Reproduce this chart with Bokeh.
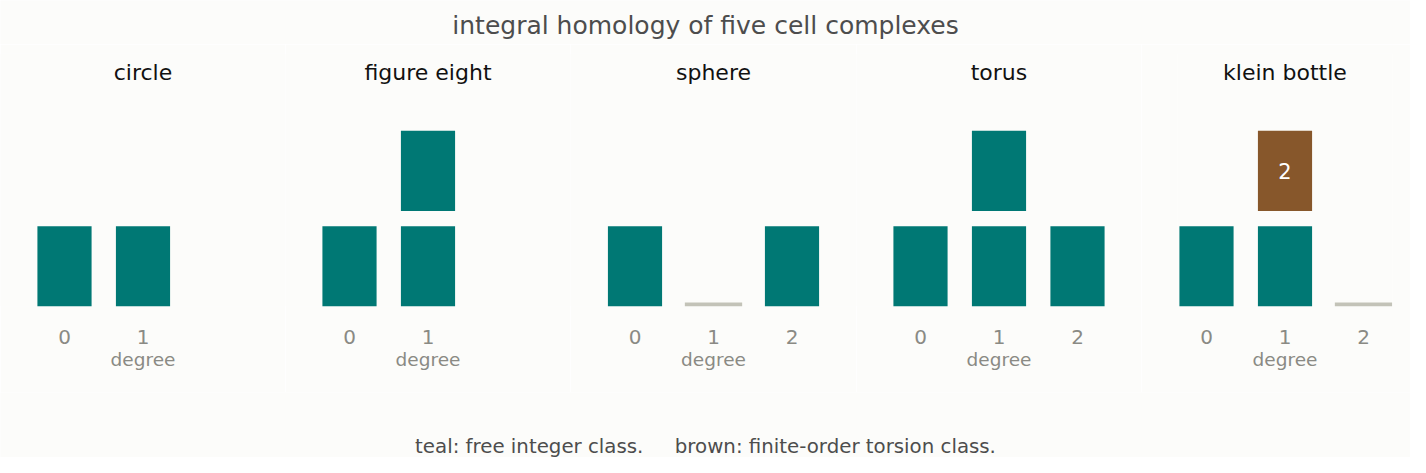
from bokeh.plotting import figure
from bokeh.models import Range1d, FixedTicker, Label, ColumnDataSource
from bokeh.layouts import column, row
from bokeh.core.properties import value
from bokeh.embed import file_html
from bokeh.resources import INLINE

# ---------------- data ----------------
main_title = "integral homology of five cell complexes"
footer_text = "teal: free integer class.\u00a0\u00a0\u00a0\u00a0 brown: finite-order torsion class."
complexes = ["circle", "figure eight", "sphere", "torus", "klein bottle"]
degrees = [[0, 1], [0, 1], [0, 1, 2], [0, 1, 2], [0, 1, 2]]
free_rank = [[1, 1], [1, 2], [1, 0, 1], [1, 2, 1], [1, 1, 0]]
torsion_orders = [[[], []], [[], []], [[], [], []], [[], [], []], [[], [2], []]]
axis_label = "degree"

# ---------------- style / layout ----------------
BG = "#fcfcfa"
TEAL = "#007874"
BROWN = "#87572b"
ZERO = "#c3c3b8"
FONT = "DejaVu Sans"
TICK_C = "#8a8a84"

frame_w = [285, 285, 286, 285, 215]
border_l = [0, 0, 0, 0, 36]
border_r = [0, 0, 0, 0, 18]
center_off = [142.5, 142.5, 143.0, 142.5, 107.5]
PX_X = 78.5
PX_Y = 95.5
Y_MAX = 2.65
FRAME_H = round(Y_MAX * PX_Y)
TITLE_Y = 2.45
BAR_W = 0.69
BAR_H = 0.84
ZERO_W = 0.73
ZERO_H = 0.042


def blank(w, h):
    f = figure(width=w, height=h, output_backend="svg", toolbar_location=None,
               x_range=Range1d(0, 1), y_range=Range1d(0, 1),
               min_border=0, background_fill_color=BG, border_fill_color=BG)
    f.outline_line_color = None
    f.axis.visible = False
    f.grid.visible = False
    return f


top = blank(1410, 44)
top.add_layout(Label(x=0.5, y=0.432, text=main_title, text_align="center",
                     text_baseline="middle", text_font=FONT,
                     text_font_size="25px", text_color="#4d4d4d"))

panels = []
for i, name in enumerate(complexes):
    start = 1 - center_off[i] / PX_X
    end = start + frame_w[i] / PX_X
    p = figure(frame_width=frame_w[i], frame_height=FRAME_H,
               output_backend="svg", toolbar_location=None,
               x_range=Range1d(start, end),
               y_range=Range1d(0, Y_MAX),
               min_border_left=border_l[i], min_border_right=border_r[i],
               min_border_top=348 - 86 - FRAME_H, min_border_bottom=86,
               background_fill_color=BG, border_fill_color=BG)
    p.outline_line_color = None
    p.grid.visible = False
    p.yaxis.visible = False

    p.add_layout(Label(x=(start + end) / 2, y=TITLE_Y, text=name,
                       text_align="center", text_baseline="middle",
                       text_font=FONT, text_font_size="22px",
                       text_color="#111111"))

    fx, fb, ft = [], [], []
    tx, tb, tt, tl = [], [], [], []
    zx = []
    for d, r, tors in zip(degrees[i], free_rank[i], torsion_orders[i]):
        for k in range(r):
            fx.append(d); fb.append(k); ft.append(k + BAR_H)
        for j, o in enumerate(tors):
            s = r + j
            tx.append(d); tb.append(s); tt.append(s + BAR_H); tl.append(str(o))
        if r == 0 and not tors:
            zx.append(d)
    if fx:
        p.vbar(x=fx, bottom=fb, top=ft, width=BAR_W, fill_color=TEAL, line_color=None)
    if tx:
        src = ColumnDataSource(dict(x=tx, b=tb, t=tt, y=[(a + b) / 2 for a, b in zip(tb, tt)], l=tl))
        p.vbar(x="x", bottom="b", top="t", width=BAR_W, fill_color=BROWN, line_color=None, source=src)
        p.text(x="x", y="y", text="l", source=src, text_align="center", text_baseline="middle",
               text_color="#ffffff", text_font=value(FONT), text_font_size="21px")
    if zx:
        p.vbar(x=zx, bottom=0, top=ZERO_H, width=ZERO_W, fill_color=ZERO, line_color=None)

    ax = p.xaxis[0]
    ax.ticker = FixedTicker(ticks=degrees[i])
    ax.axis_line_color = None
    ax.major_tick_line_color = None
    ax.minor_tick_line_color = None
    ax.major_tick_out = 0
    ax.major_tick_in = 0
    ax.major_label_standoff = 23
    ax.major_label_text_font = FONT
    ax.major_label_text_font_size = "20px"
    ax.major_label_text_color = TICK_C
    ax.axis_label = axis_label
    ax.axis_label_text_font = FONT
    ax.axis_label_text_font_size = "18.5px"
    ax.axis_label_text_font_style = "normal"
    ax.axis_label_text_color = TICK_C
    ax.axis_label_standoff = 2
    panels.append(p)

bottom = blank(1410, 65)
bottom.add_layout(Label(x=0.5, y=0.169, text=footer_text, text_align="center",
                        text_baseline="middle", text_font=FONT,
                        text_font_size="19.8px", text_color="#4d4d4d"))

layout = column(top, row(*panels), bottom)
open("out.html", "w").write(file_html(layout, INLINE))
